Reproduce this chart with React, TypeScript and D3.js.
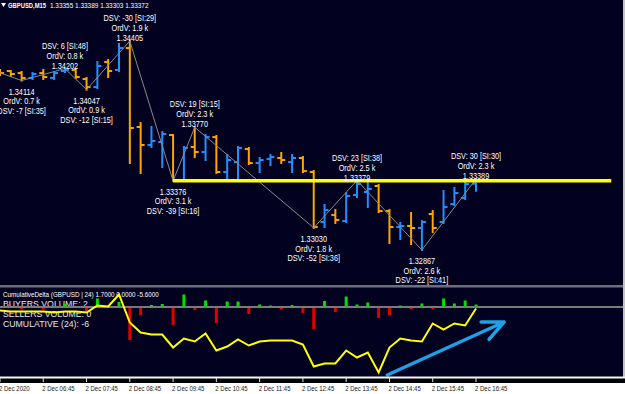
import { useEffect, useRef } from "react"
import * as d3 from "d3"

const W = 625
const H = 394

const symbol = "GBPUSD,M15"
const lastQuote = ["1.33355", "1.33389", "1.33303", "1.33372"]

// M15 bars, index 0 = 2 Dec 05:45
const open = [1.34177, 1.34184, 1.34169, 1.34133, 1.34169, 1.34133, 1.34184, 1.34192, 1.34125, 1.34066, 1.34250, 1.34192, 1.34353, 1.33772, 1.33640, 1.33662, 1.33713, 1.33382, 1.33625, 1.33588, 1.33698, 1.33441, 1.33514, 1.33610, 1.33507, 1.33537, 1.33544, 1.33514, 1.33544, 1.33441, 1.33073, 1.33124, 1.33080, 1.33272, 1.33294, 1.33338, 1.33154, 1.33036, 1.33044, 1.33029, 1.33132, 1.33073, 1.33205, 1.33250, 1.33355]
const high = [1.34192, 1.34184, 1.34177, 1.34169, 1.34192, 1.34177, 1.34202, 1.34199, 1.34133, 1.34250, 1.34265, 1.34383, 1.34405, 1.33801, 1.33772, 1.33735, 1.33713, 1.33625, 1.33770, 1.33713, 1.33706, 1.33566, 1.33625, 1.33618, 1.33544, 1.33566, 1.33581, 1.33566, 1.33551, 1.33448, 1.33198, 1.33161, 1.33286, 1.33379, 1.33360, 1.33345, 1.33161, 1.33066, 1.33139, 1.33080, 1.33154, 1.33301, 1.33323, 1.33360, 1.33389]
const low = [1.34155, 1.34147, 1.34114, 1.34125, 1.34125, 1.34125, 1.34177, 1.34133, 1.34047, 1.34059, 1.34140, 1.34184, 1.33507, 1.33434, 1.33625, 1.33478, 1.33376, 1.33382, 1.33551, 1.33529, 1.33434, 1.33382, 1.33382, 1.33500, 1.33441, 1.33492, 1.33507, 1.33441, 1.33441, 1.33030, 1.33036, 1.33066, 1.33073, 1.33257, 1.33183, 1.33146, 1.32918, 1.32948, 1.32911, 1.32867, 1.32999, 1.33066, 1.33198, 1.33242, 1.33303]
const close = [1.34169, 1.34162, 1.34133, 1.34162, 1.34140, 1.34169, 1.34192, 1.34140, 1.34066, 1.34221, 1.34184, 1.34353, 1.33765, 1.33640, 1.33669, 1.33721, 1.33382, 1.33618, 1.33588, 1.33698, 1.33441, 1.33529, 1.33618, 1.33507, 1.33529, 1.33551, 1.33529, 1.33544, 1.33448, 1.33036, 1.33161, 1.33088, 1.33264, 1.33352, 1.33316, 1.33154, 1.33036, 1.33044, 1.33029, 1.33073, 1.33029, 1.33183, 1.33286, 1.33352, 1.33372]

// zigzag swings
const zigStartIdx = -1
const zigStartPrice = 1.34199
const zigIdx = [2, 6, 8, 12, 16, 18, 29, 33, 39, 44]
const zigPrice = [1.34114, 1.34202, 1.34047, 1.34405, 1.33376, 1.33770, 1.33030, 1.33379, 1.32867, 1.33389]
const zigOrdV = ["0.7", "0.8", "0.9", "1.9", "3.1", "2.3", "1.8", "2.5", "2.6", "2.3"]
const zigDsv = [-7, 6, -12, -30, -39, 19, -52, 23, -22, 30]
const zigSi = [35, 48, 15, 29, 16, 15, 36, 38, 41, 30]

// support level
const levelPrice = 1.33376
const levelFrom = 16
const levelTo = 56.5

// cumulative delta sub-window
const delta = [0, 0, -1, 0, -1.5, 0, 2.5, 0, -4, 8, 0, 4.5, -32, -7, 1.5, 2.5, -17, 12, -2, 6, -15, 5, 5, -6, 2, 1, -1.5, 1.5, -5, -21, 5.5, -4, 10, 2, 4, -10, -7, 1, -1, 3, -1, 8, 3, 6, 2]
const cumulative = [-4, -5, -5, -5, -5, -6, -5, -5, -6, 1, 0, 12, -16, -26, -28, -28, -41, -32, -35, -27, -44, -40, -33, -39, -35, -34, -34, -34, -38, -60, -57, -57, -44, -51, -46, -66, -41, -32, -34, -35, -17, -23, -17, -19, -2]
const subTitle = "CumulativeDelta (GBPUSD | 24) 1.7000 0.0000 -5.6000"
const subLines = ["BUYERS VOLUME: 2", "SELLERS VOLUME: 0", "CUMULATIVE (24): -6"]
const arrowFrom = [35.8, -68.5]
const arrowTo = [46.6, -15.5]

const tickIdx = [0, 4, 8, 12, 16, 20, 24, 28, 32, 36, 40, 44]
const tickLabels = ["2 Dec 2020", "2 Dec 06:45", "2 Dec 07:45", "2 Dec 08:45", "2 Dec 09:45", "2 Dec 10:45", "2 Dec 11:45", "2 Dec 12:45", "2 Dec 13:45", "2 Dec 14:45", "2 Dec 15:45", "2 Dec 16:45"]

const BG = "#020220"
const UP = "#1e90ff"
const DOWN = "#ffa500"
const FONT = "'Liberation Sans', Arial, sans-serif"

export default function App() {
  const svgRef = useRef<SVGSVGElement>(null)

  useEffect(() => {
    const svg = d3.select(svgRef.current)
    svg.selectAll("*").remove()

    const x = d3.scaleLinear().domain([0, 44]).range([0, 476])
    const y = d3.scaleLinear().domain([1.32867, 1.34405]).range([250, 41])
    const ys = d3.scaleLinear().domain([0, -70]).range([306.5, 376.5])

    const txt = (g: any, tx: number, ty: number, s: string, size: number, sx: number, color: string, anchor = "start", weight = "normal") =>
      g.append("text")
        .attr("transform", `translate(${tx},${ty}) scale(${sx},1)`)
        .attr("dy", "0.35em")
        .attr("font-family", FONT)
        .attr("font-size", size)
        .attr("font-weight", weight)
        .attr("fill", color)
        .attr("text-anchor", anchor)
        .text(s)

    svg.append("rect").attr("width", W).attr("height", H).attr("fill", "#ffffff")
    svg.append("rect").attr("width", 623).attr("height", 377).attr("fill", BG)

    const defs = svg.append("defs")
    defs.append("clipPath").attr("id", "mainClip").append("rect").attr("width", 623).attr("height", 285)
    defs.append("clipPath").attr("id", "subClip").append("rect").attr("y", 288).attr("width", 623).attr("height", 89)

    // ---- main window
    const main = svg.append("g").attr("clip-path", "url(#mainClip)")
    const bars = main.append("g")
    d3.range(open.length).forEach(i => {
      const c = close[i] >= open[i] ? UP : DOWN
      const bx = x(i)
      bars.append("line").attr("x1", bx).attr("x2", bx).attr("y1", y(high[i]) - 1).attr("y2", y(low[i]) + 1)
        .attr("stroke", c).attr("stroke-width", 2)
      bars.append("line").attr("x1", bx - 4).attr("x2", bx).attr("y1", y(open[i])).attr("y2", y(open[i]))
        .attr("stroke", c).attr("stroke-width", 2)
      bars.append("line").attr("x1", bx).attr("x2", bx + 4).attr("y1", y(close[i])).attr("y2", y(close[i]))
        .attr("stroke", c).attr("stroke-width", 2)
    })

    const zz: [number, number][] = [[zigStartIdx, zigStartPrice], ...zigIdx.map((d, i) => [d, zigPrice[i]] as [number, number])]
    main.append("path")
      .datum(zz)
      .attr("fill", "none")
      .attr("stroke", "#8a8a8a")
      .attr("stroke-width", 1)
      .attr("d", d3.line<[number, number]>().x(d => x(d[0])).y(d => y(d[1])))

    main.append("line")
      .attr("x1", x(levelFrom)).attr("x2", x(levelTo))
      .attr("y1", y(levelPrice)).attr("y2", y(levelPrice))
      .attr("stroke", "#ffff00").attr("stroke-width", 3.5)

    const labels = main.append("g")
    zigIdx.forEach((idx, k) => {
      const px = x(idx)
      const py = y(zigPrice[k])
      const isHigh = k === 0 ? false : zigPrice[k] > zigPrice[k - 1]
      const pr = zigPrice[k].toFixed(5)
      const ord = `OrdV: ${zigOrdV[k]} k`
      const dsv = `DSV: ${zigDsv[k]} [SI:${zigSi[k]}]`
      const rows = isHigh ? [[dsv, -23], [ord, -13], [pr, -3]] : [[pr, 11], [ord, 20.5], [dsv, 30]]
      rows.forEach(([s, off]) => txt(labels, px, py + (off as number), s as string, 9, 0.815, "#ffffff", "middle"))
    })

    // title
    svg.append("path").attr("d", "M1,3 L6,3 L3.5,7 Z").attr("fill", "#ffffff")
    txt(svg, 8, 5, symbol, 7.5, 0.78, "#ffffff", "start", "bold")
    txt(svg, 50, 5, lastQuote.join(" "), 7.5, 0.86, "#ffffff")

    // separators
    svg.append("rect").attr("y", 285.5).attr("width", 623).attr("height", 1).attr("fill", "#d8d8d8")
    svg.append("rect").attr("y", 287).attr("width", 623).attr("height", 1).attr("fill", "#3a3a4a")

    // ---- sub window
    const sub = svg.append("g").attr("clip-path", "url(#subClip)")
    txt(sub, 3, 294.5, subTitle, 7.5, 0.84, "#ffffff")
    subLines.forEach((s, i) => txt(sub, 3, 304 + i * 10, s, 9, 0.97, "#e6e6e6"))

    sub.append("line").attr("x1", 0).attr("x2", 623).attr("y1", ys(0) + 0.5).attr("y2", ys(0) + 0.5)
      .attr("stroke", "#7a7a7a").attr("stroke-width", 2)

    sub.append("g").selectAll("rect")
      .data(delta)
      .join("rect")
      .attr("x", (d, i) => x(i) - 1.5)
      .attr("width", 3)
      .attr("y", d => (d > 0 ? ys(d) : ys(0) + 1.5))
      .attr("height", d => (d > 0 ? ys(0) - ys(d) : d < 0 ? ys(d) - ys(0) : 0))
      .attr("fill", d => (d > 0 ? "#00e000" : "#e00000"))

    sub.append("path")
      .datum(cumulative)
      .attr("fill", "none")
      .attr("stroke", "#ffff00")
      .attr("stroke-width", 2)
      .attr("d", d3.line<number>().x((d, i) => x(i)).y(d => ys(d)))

    // blue arrow
    const ax0 = x(arrowFrom[0]), ay0 = ys(arrowFrom[1])
    const ax1 = x(arrowTo[0]), ay1 = ys(arrowTo[1])
    const back = Math.atan2(ay0 - ay1, ax0 - ax1)
    const head = 0.43
    const len = 23
    const arrowPath = `M${ax0},${ay0} L${ax1},${ay1} M${ax1 + len * Math.cos(back - head)},${ay1 + len * Math.sin(back - head)} L${ax1},${ay1} L${ax1 + len * Math.cos(back + head)},${ay1 + len * Math.sin(back + head)}`
    svg.append("path").attr("d", arrowPath).attr("fill", "none")
      .attr("stroke", "#1fa0e6").attr("stroke-width", 3.5).attr("stroke-linecap", "round").attr("stroke-linejoin", "round")

    // ---- borders and time axis
    svg.append("rect").attr("x", 623).attr("width", 2).attr("height", 378).attr("fill", "#c4c4c4")
    svg.append("rect").attr("y", 376.5).attr("width", W).attr("height", 2).attr("fill", "#f4f4f4")
    svg.append("rect").attr("y", 378.5).attr("width", W).attr("height", 4.5).attr("fill", "#000008")

    const axis = svg.append("g")
    tickIdx.forEach((t, i) => {
      axis.append("line").attr("x1", x(t)).attr("x2", x(t)).attr("y1", 378).attr("y2", 382)
        .attr("stroke", "#e0e0e0").attr("stroke-width", 1)
      txt(axis, x(t) - 1, 388.5, tickLabels[i], 7.5, 0.8, "#1a1a1a")
    })
  }, [])

  return (
    <svg ref={svgRef} width={W} height={H} style={{ position: "fixed", left: 0, top: 0 }}></svg>
  )
}
